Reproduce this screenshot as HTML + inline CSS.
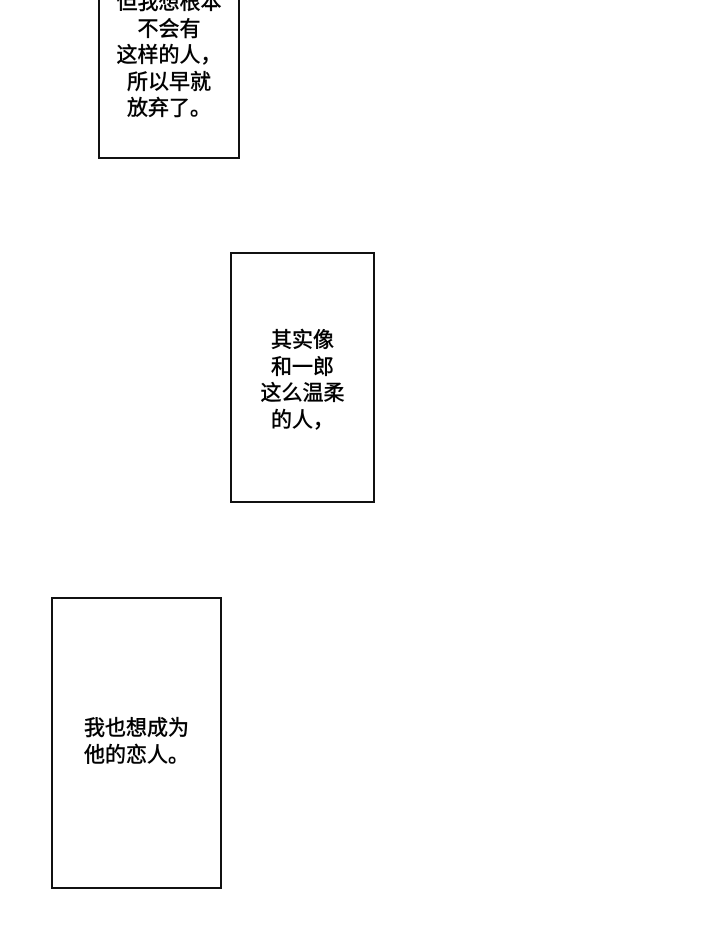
<!DOCTYPE html>
<html><head><meta charset="utf-8"><style>
body{margin:0;width:720px;height:951px;background:#fff;position:relative;overflow:hidden;font-family:"Liberation Sans","Noto Sans CJK SC",sans-serif;}
.b{position:absolute;border:2px solid #111;box-sizing:border-box;background:#fff;}
.t{position:absolute;left:0;right:0;text-align:center;font-size:21px;line-height:26.5px;color:#000;white-space:nowrap;-webkit-text-stroke:0.5px #000;}
</style></head><body>
<div class="b" style="left:98px;top:-10px;width:142px;height:169px"><div class="t" style="top:-2px">但我想根本<br>不会有<br>这样的人，<br>所以早就<br>放弃了。</div></div>
<div class="b" style="left:230px;top:252px;width:145px;height:251px"><div class="t" style="top:74px">其实像<br>和一郎<br>这么温柔<br>的人，</div></div>
<div class="b" style="left:51px;top:597px;width:171px;height:292px"><div class="t" style="top:117px">我也想成为<br>他的恋人。</div></div>
</body></html>
